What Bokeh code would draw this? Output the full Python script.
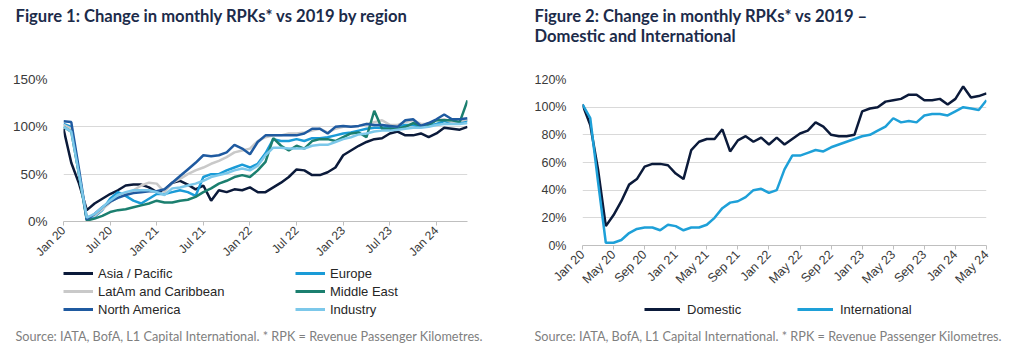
import math
from bokeh.plotting import figure
from bokeh.models import (Range1d, FixedTicker, PrintfTickFormatter, Legend,
                          LegendItem)
from bokeh.layouts import row, column
from bokeh.embed import file_html
from bokeh.resources import INLINE

# ---------------- data ----------------
months = list(range(53))  # Jan 2020 .. May 2024

left_tick_pos = [0, 6, 12, 18, 24, 30, 36, 42, 48]
left_tick_labels = ["Jan 20", "Jul 20", "Jan 21", "Jul 21", "Jan 22",
                    "Jul 22", "Jan 23", "Jul 23", "Jan 24"]
right_tick_pos = [0, 4, 8, 12, 16, 20, 24, 28, 32, 36, 40, 44, 48, 52]
right_tick_labels = ["Jan 20", "May 20", "Sep 20", "Jan 21", "May 21", "Sep 21",
                     "Jan 22", "May 22", "Sep 22", "Jan 23", "May 23", "Sep 23",
                     "Jan 24", "May 24"]

asia_pacific = [98, 62, 40, 12, 19, 24, 29, 33, 38, 39, 39, 36, 31, 33, 41, 43, 39, 34,
                38, 22, 33, 31, 34, 33, 36, 31, 31, 36, 41, 47, 55, 54, 49, 49, 52, 57,
                70, 75, 80, 84, 87, 88, 93, 95, 91, 91, 93, 89, 93, 99, 98, 97, 100]
europe = [103, 100, 50, 2, 5, 12, 24, 31, 27, 22, 19, 24, 29, 29, 31, 33, 31, 27,
          47, 50, 50, 54, 57, 60, 57, 61, 72, 87, 85, 85, 87, 85, 88, 88, 89, 91,
          93, 94, 96, 98, 99, 99, 100, 101, 102, 102, 100, 101, 103, 106, 104, 104, 107]
latam = [102, 98, 50, 5, 6, 13, 20, 26, 29, 33, 38, 41, 40, 31, 41, 45, 50, 54,
         57, 61, 64, 68, 73, 75, 77, 85, 89, 91, 91, 93, 93, 94, 96, 98, 94, 98,
         100, 100, 101, 103, 105, 107, 102, 102, 105, 107, 103, 103, 107, 108, 105, 106, 108]
middle_east = [100, 95, 50, 1, 3, 6, 10, 12, 13, 15, 17, 19, 22, 20, 20, 22, 23, 26,
               31, 35, 40, 43, 47, 49, 47, 54, 63, 88, 80, 75, 80, 77, 85, 87, 87, 85,
               89, 93, 94, 89, 117, 98, 98, 98, 100, 104, 101, 102, 107, 107, 107, 105, 128]
north_america = [106, 105, 55, 2, 8, 15, 21, 25, 28, 30, 31, 32, 32, 34, 41, 48, 55, 62,
                 70, 69, 70, 73, 81, 77, 71, 84, 91, 91, 91, 91, 91, 93, 98, 98, 93, 100,
                 101, 100, 101, 103, 102, 102, 101, 100, 107, 108, 101, 104, 108, 113, 108, 108, 109]
industry = [100, 95, 50, 4, 8, 15, 22, 28, 31, 33, 33, 33, 31, 28, 35, 36, 38, 40,
            43, 47, 49, 51, 54, 56, 54, 59, 70, 78, 78, 77, 77, 77, 80, 81, 81, 84,
            87, 89, 92, 93, 95, 96, 96, 97, 98, 99, 99, 100, 102, 103, 103, 103, 104]

domestic = [102, 87, 55, 14, 22, 32, 44, 48, 57, 59, 59, 58, 52, 48, 69, 75, 77, 77,
            84, 68, 76, 79, 75, 78, 73, 78, 73, 77, 81, 83, 89, 86, 80, 79, 79, 80,
            97, 99, 100, 104, 105, 106, 109, 109, 105, 105, 106, 102, 106, 115, 107, 108, 110]
international = [102, 92, 46, 2, 2, 4, 9, 12, 13, 13, 11, 15, 14, 11, 13, 13, 15, 20,
                 27, 31, 32, 35, 40, 41, 38, 40, 55, 65, 65, 67, 69, 68, 71, 73, 75, 77,
                 79, 80, 83, 86, 92, 89, 90, 89, 94, 95, 95, 94, 97, 100, 99, 98, 105]

left_series = [("Asia / Pacific", asia_pacific, "#0b1a3a"),
               ("Europe", europe, "#1a9bd7"),
               ("LatAm and Caribbean", latam, "#c9c9c9"),
               ("Middle East", middle_east, "#1b7f6f"),
               ("North America", north_america, "#1f5aa0"),
               ("Industry", industry, "#7cc8ea")]
# legend fills column by column: left column first, then right column
left_legend_order = ["Asia / Pacific", "LatAm and Caribbean", "North America",
                     "Europe", "Middle East", "Industry"]
right_series = [("Domestic", domestic, "#0b1a3a"),
                ("International", international, "#1ea0d8")]

TITLE_FONT = "Lato"
TICK_FONT = "Liberation Sans"
TITLE_COLOR = "#1c2b4a"
SOURCE = "Source: IATA, BofA, L1 Capital International. * RPK = Revenue Passenger Kilometres."


def blank_fig(h, title_location="above"):
    p = figure(width=512, height=h, output_backend="svg", toolbar_location=None,
               x_range=Range1d(0, 512), y_range=Range1d(h, 0),
               x_axis_location=None, y_axis_location=None,
               title_location=title_location,
               min_border=0, min_border_left=0, min_border_right=0,
               min_border_top=0, min_border_bottom=0)
    p.outline_line_color = None
    p.grid.visible = False
    return p


def style_title(t, text, size, color, valign, standoff, bold):
    t.text = text
    t.text_font = TITLE_FONT
    t.text_font_size = size
    t.text_font_style = "bold" if bold else "normal"
    t.text_color = color
    t.align = "left"
    t.offset = -48
    t.vertical_align = valign
    t.standoff = standoff


def main_fig(ymax, yticks, ticks, labels, left, right, frame_h, bottom, yfs, xfs):
    p = figure(width=512, height=10 + frame_h + bottom, output_backend="svg",
               toolbar_location=None,
               x_range=Range1d(0, 52), y_range=Range1d(0, ymax),
               min_border_left=left, min_border_right=right,
               min_border_top=10, min_border_bottom=bottom)
    p.outline_line_color = None
    p.xgrid.visible = False
    p.ygrid.grid_line_color = "#d9d9d9"
    p.ygrid.grid_line_width = 1
    p.yaxis.ticker = FixedTicker(ticks=yticks)
    p.yaxis.formatter = PrintfTickFormatter(format="%d%%")
    p.yaxis.axis_line_color = None
    p.yaxis.major_tick_line_color = None
    p.yaxis.minor_tick_line_color = None
    p.yaxis.major_label_standoff = 10
    p.xaxis.ticker = FixedTicker(ticks=ticks)
    p.xaxis.major_label_overrides = {t: l for t, l in zip(ticks, labels)}
    p.xaxis.major_label_orientation = math.pi / 4
    p.xaxis.axis_line_color = "#bfbfbf"
    p.xaxis.major_tick_line_color = "#bfbfbf"
    p.xaxis.major_tick_in = 0
    p.xaxis.major_tick_out = 4
    p.xaxis.minor_tick_line_color = None
    p.xaxis.major_label_standoff = 3
    p.yaxis.major_label_text_font_size = yfs
    p.xaxis.major_label_text_font_size = xfs
    for ax in (p.xaxis, p.yaxis):
        ax.major_label_text_font = TICK_FONT
        ax.major_label_text_color = "#3a3a3a"
    return p


def title_fig(text):
    t = blank_fig(69, "above")
    style_title(t.title, text, "16.6px", TITLE_COLOR, "top", 10, True)
    return t


def bottom_fig(h, series, order, legend_loc, ncols, orientation, label_width,
               glyph_w, standoff):
    b = blank_fig(h, "below")
    style_title(b.title, SOURCE, "12.7px", "#7f7f7f", "middle", 13, False)
    rmap = {}
    for name, vals, col in series:
        rmap[name] = b.line(months, vals, line_color=col, line_width=3, visible=False)
    items = [LegendItem(label=name, renderers=[rmap[name]]) for name in order]
    kw = dict(items=items, location=legend_loc, orientation=orientation,
              label_width=label_width, glyph_width=glyph_w, glyph_height=18,
              spacing=0, padding=0, margin=0, border_line_color=None,
              background_fill_alpha=0, label_text_font=TICK_FONT,
              label_text_font_size="13px", label_text_color="#262626",
              label_standoff=standoff, inactive_fill_alpha=0)
    if ncols is not None:
        kw["ncols"] = ncols
    b.add_layout(Legend(**kw), "center")
    return b


# ---------------- Figure 1 ----------------
t1 = title_fig("Figure 1: Change in monthly RPKs* vs 2019 by region")
m1 = main_fig(150, [0, 50, 100, 150], left_tick_pos, left_tick_labels, 63, 45, 142, 45,
              "13.5px", "12px")
for name, vals, col in left_series:
    m1.line(months, vals, line_color=col, line_width=2.5)
b1 = bottom_fig(85, left_series, left_legend_order, (0, 2), 2, "vertical", 197, 30, 5)

# ---------------- Figure 2 ----------------
t2 = title_fig("Figure 2: Change in monthly RPKs* vs 2019 \u2013\nDomestic and International")
m2 = main_fig(120, [0, 20, 40, 60, 80, 100, 120], right_tick_pos, right_tick_labels,
              70, 38, 167, 48, "12.5px", "12.5px")
for name, vals, col in right_series:
    m2.line(months, vals, line_color=col, line_width=2.5)
b2 = bottom_fig(57, right_series, [s[0] for s in right_series], (62, 2), None,
                "horizontal", 110, 36, 7)

layout = row(column(t1, m1, b1), column(t2, m2, b2))
open("out.html", "w").write(file_html(layout, INLINE))
